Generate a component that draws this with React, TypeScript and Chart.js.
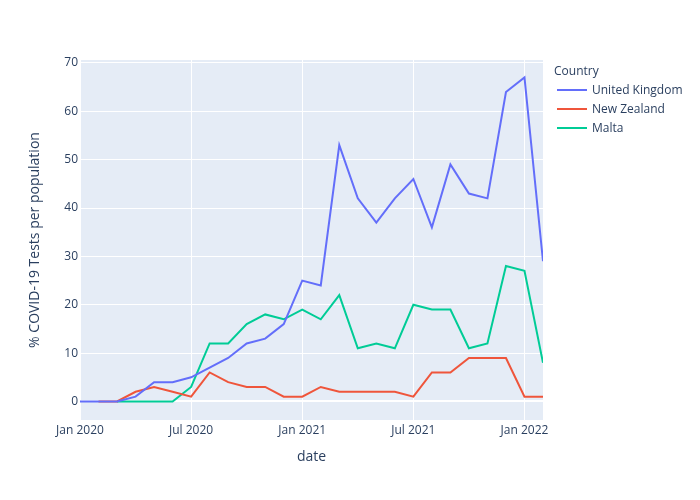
import React, { useEffect, useRef } from "react";
import { Chart, registerables } from "chart.js";

Chart.register(...registerables);

const months: string[] = [
  "2020-01", "2020-02", "2020-03", "2020-04", "2020-05", "2020-06",
  "2020-07", "2020-08", "2020-09", "2020-10", "2020-11", "2020-12",
  "2021-01", "2021-02", "2021-03", "2021-04", "2021-05", "2021-06",
  "2021-07", "2021-08", "2021-09", "2021-10", "2021-11", "2021-12",
  "2022-01", "2022-02",
];

const ukValues: (number | null)[] = [0, 0, 0, 1, 4, 4, 5, 7, 9, 12, 13, 16, 25, 24, 53, 42, 37, 42, 46, 36, 49, 43, 42, 64, 67, 29];
const nzValues: (number | null)[] = [null, 0, 0, 2, 3, 2, 1, 6, 4, 3, 3, 1, 1, 3, 2, 2, 2, 2, 1, 6, 6, 9, 9, 9, 1, 1];
const maltaValues: (number | null)[] = [null, null, 0, 0, 0, 0, 3, 12, 12, 16, 18, 17, 19, 17, 22, 11, 12, 11, 20, 19, 19, 11, 12, 28, 27, 8];

const seriesNames: string[] = ["United Kingdom", "New Zealand", "Malta"];
const seriesColors: string[] = ["#636efa", "#EF553B", "#00cc96"];

const xTickMonths: number[] = [0, 6, 12, 18, 24];
const xTickLabels: string[] = ["Jan 2020", "Jul 2020", "Jan 2021", "Jul 2021", "Jan 2022"];
const yTicks: number[] = [0, 10, 20, 30, 40, 50, 60, 70];

const legendTitle = "Country";
const xTitle = "date";
const yTitle = "% COVID-19 Tests per population";

const FONT = "'Open Sans', verdana, arial, sans-serif";
const TEXT = "#2a3f5f";

const toPoints = (vals: (number | null)[]) =>
  months.map((_, i) => ({ x: i, y: vals[i] }));

const bgPlugin = {
  id: "plotBg",
  beforeDraw(chart: any) {
    const { ctx, chartArea } = chart;
    ctx.save();
    ctx.fillStyle = "#E5ECF6";
    ctx.fillRect(chartArea.left, chartArea.top, chartArea.right - chartArea.left, chartArea.bottom - chartArea.top);
    ctx.restore();
  },
};

const legendPlugin = {
  id: "customLegend",
  afterDraw(chart: any) {
    const { ctx } = chart;
    ctx.save();
    ctx.font = `12px ${FONT}`;
    ctx.fillStyle = TEXT;
    ctx.textBaseline = "middle";
    ctx.textAlign = "left";
    ctx.fillText(legendTitle, 554, 72);
    seriesNames.forEach((name, i) => {
      const y = 90 + i * 19;
      ctx.strokeStyle = seriesColors[i];
      ctx.lineWidth = 2;
      ctx.beginPath();
      ctx.moveTo(557, y);
      ctx.lineTo(587, y);
      ctx.stroke();
      ctx.fillStyle = TEXT;
      ctx.fillText(name, 592, y + 1);
    });
    ctx.restore();
  },
};

export default function App() {
  const ref = useRef<HTMLCanvasElement>(null);

  useEffect(() => {
    if (!ref.current) return;
    const datasets = [ukValues, nzValues, maltaValues].map((vals, i) => ({
      label: seriesNames[i],
      data: toPoints(vals),
      borderColor: seriesColors[i],
      backgroundColor: seriesColors[i],
      borderWidth: 2,
      pointRadius: 0,
      tension: 0,
      fill: false,
    }));
    const chart = new Chart(ref.current, {
      type: "line",
      data: { datasets },
      options: {
        animation: false,
        responsive: false,
        maintainAspectRatio: false,
        layout: { padding: { left: 0, top: 60, right: 157, bottom: 0 } },
        plugins: {
          legend: { display: false },
          tooltip: { enabled: false },
        },
        scales: {
          x: {
            type: "linear",
            min: 0,
            max: months.length - 1,
            afterBuildTicks: (scale: any) => {
              scale.ticks = xTickMonths.map((v) => ({ value: v }));
            },
            afterFit: (scale: any) => {
              scale.height = 80;
            },
            ticks: {
              autoSkip: false,
              maxRotation: 0,
              padding: 3,
              color: TEXT,
              font: { family: FONT, size: 12 },
              callback: (v: any) => {
                const idx = xTickMonths.indexOf(Number(v));
                return idx >= 0 ? xTickLabels[idx] : "";
              },
            },
            grid: { color: "#ffffff", lineWidth: 1, drawTicks: false },
            border: { display: false },
            title: {
              display: true,
              text: xTitle,
              color: TEXT,
              font: { family: FONT, size: 14 },
              padding: { top: 0, bottom: 34.6 },
            },
          },
          y: {
            type: "linear",
            min: -3.83,
            max: 70.61,
            afterBuildTicks: (scale: any) => {
              scale.ticks = yTicks.map((v) => ({ value: v }));
            },
            afterFit: (scale: any) => {
              scale.width = 80;
            },
            ticks: {
              padding: 2,
              color: TEXT,
              font: { family: FONT, size: 12 },
              callback: (v: any) => String(v),
            },
            grid: {
              color: "#ffffff",
              lineWidth: (c: any) => (c.tick && c.tick.value === 0 ? 2 : 1),
              drawTicks: false,
            },
            border: { display: false },
            title: {
              display: true,
              text: yTitle,
              color: TEXT,
              font: { family: FONT, size: 14 },
              padding: { top: 26.6, bottom: 0 },
            },
          },
        },
      },
      plugins: [bgPlugin, legendPlugin],
    } as any);
    return () => chart.destroy();
  }, []);

  return (
    <div style={{ position: "fixed", left: 0, top: 0, width: 700, height: 500, background: "#fff" }}>
      <canvas ref={ref} width={700} height={500} style={{ width: 700, height: 500 }} />
    </div>
  );
}
